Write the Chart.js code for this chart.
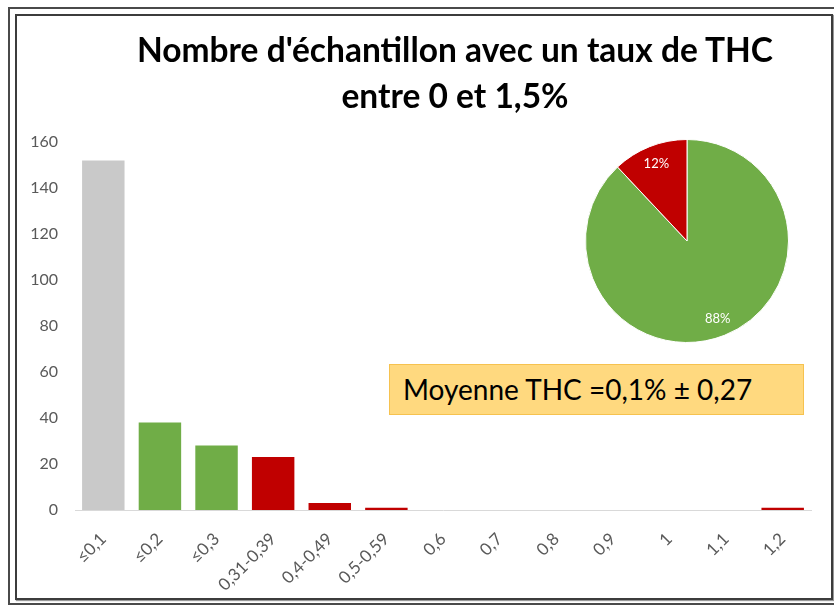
<!DOCTYPE html>
<html>
<head>
<meta charset="utf-8">
<script src="https://cdn.jsdelivr.net/npm/chart.js@4"></script>
<style>
  body { margin: 0; background: #fff; }
  #wrap { position: relative; width: 834px; height: 605px; overflow: hidden; font-family: Lato, "Open Sans", sans-serif; }
  .frame-out { position: absolute; left: 8px; top: 7px; width: 840px; height: 594px; border: 2px solid #4a4a4a; border-right: none; }
  .frame-in { position: absolute; left: 15px; top: 14px; width: 814px; height: 582px; border: 2px solid #3c3c3c; box-shadow: 1px 1px 1px #999; }
  #titre { position: absolute; left: 105px; width: 700px; top: 26px; text-align: center; font-weight: bold; font-size: 33.5px; line-height: 46px; color: #000; }
  #moyenne { position: absolute; left: 389px; top: 364px; width: 400px; height: 49px; background: #ffd97f; border: 1px solid #f6c24f; font-size: 28px; line-height: 49px; padding-left: 13px; box-sizing: content-box; color: #000; }
  #barres { position: absolute; left: 0; top: 0; }
  #camembert { position: absolute; left: 585px; top: 139px; }
</style>
</head>
<body>
<div id="wrap">
  <div class="frame-out"></div>
  <div class="frame-in"></div>
  <canvas id="barres" width="834" height="605"></canvas>
  <div id="titre">Nombre d'échantillon avec un taux de THC<br>entre 0 et 1,5%</div>
  <canvas id="camembert" width="204" height="204"></canvas>
  <div id="moyenne">Moyenne THC =0,1% ± 0,27</div>
</div>
<script>
// catégories de taux de THC et nombre d'échantillons
const categories = ['≤0,1', '≤0,2', '≤0,3', '0,31-0,39', '0,4-0,49', '0,5-0,59', '0,6', '0,7', '0,8', '0,9', '1', '1,1', '1,2'];
const echantillons = [152, 38, 28, 23, 3, 1, 0, 0, 0, 0, 0, 0, 1];
const yTicks = [0, 20, 40, 60, 80, 100, 120, 140, 160];

// répartition du camembert
const partLabels = ['≤0,3', '>0,3'];
const partValeurs = [88, 12];

const gris = '#c9c9c9', vert = '#70ad47', rouge = '#c00000';
const couleursBarres = [gris, vert, vert, rouge, rouge, rouge, rouge, rouge, rouge, rouge, rouge, rouge, rouge];

Chart.defaults.font.family = 'Lato, "Open Sans", sans-serif';

new Chart(document.getElementById('barres'), {
    type: 'bar',
    data: {
        labels: categories,
        datasets: [{
            data: echantillons,
            backgroundColor: couleursBarres,
            barPercentage: 0.75,
            categoryPercentage: 1
        }]
    },
    options: {
        responsive: false,
        animation: false,
        layout: { padding: { left: 16, right: 23, top: 142, bottom: 0 } },
        plugins: { legend: { display: false }, tooltip: { enabled: false } },
        scales: {
            x: {
                grid: { display: false },
                border: { display: true, color: '#d9d9d9', width: 1 },
                ticks: { color: '#595959', font: { size: 17 }, minRotation: 45, maxRotation: 45, padding: 11 },
                afterFit: s => { s.height = 95; }
            },
            y: {
                min: 0, max: 160,
                afterBuildTicks: s => { s.ticks = yTicks.map(v => ({ value: v })); },
                grid: { display: false, drawTicks: false },
                border: { display: false },
                ticks: { color: '#595959', font: { size: 16 }, padding: 17 },
                afterFit: s => { s.width = 59; }
            }
        }
    }
});

// étiquettes de pourcentage dans le camembert
const etiquettesPart = {
    id: 'etiquettesPart',
    afterDatasetsDraw(chart) {
        const ctx = chart.ctx;
        const meta = chart.getDatasetMeta(0);
        ctx.save();
        ctx.fillStyle = '#ffffff';
        ctx.font = '13px Lato, "Open Sans", sans-serif';
        ctx.textAlign = 'center';
        ctx.textBaseline = 'middle';
        meta.data.forEach((arc, i) => {
            const a = (arc.startAngle + arc.endAngle) / 2;
            const r = arc.outerRadius * 0.82;
            ctx.fillText(partValeurs[i] + '%', arc.x + Math.cos(a) * r, arc.y + Math.sin(a) * r);
        });
        ctx.restore();
    }
};

new Chart(document.getElementById('camembert'), {
    type: 'pie',
    data: {
        labels: partLabels,
        datasets: [{
            data: partValeurs,
            backgroundColor: [vert, rouge],
            borderColor: '#ffffff',
            borderWidth: 1
        }]
    },
    options: {
        responsive: false,
        animation: false,
        plugins: { legend: { display: false }, tooltip: { enabled: false } }
    },
    plugins: [etiquettesPart]
});
</script>
</body>
</html>
